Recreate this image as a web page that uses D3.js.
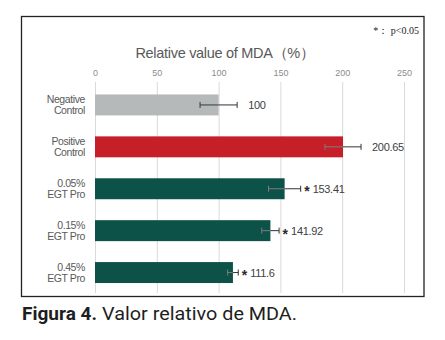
<!DOCTYPE html>
<html>
<head>
<meta charset="utf-8">
<script src="https://cdn.jsdelivr.net/npm/d3@7"></script>
<style>
  html, body { margin: 0; padding: 0; background: #fff; }
  svg { display: block; }
</style>
</head>
<body>
<div id="chart"></div>
<script>
// MDA relative values per treatment group
const groups = [["Negative", "Control"], ["Positive", "Control"], ["0.05%", "EGT Pro"], ["0.15%", "EGT Pro"], ["0.45%", "EGT Pro"]];
const values = [100, 200.65, 153.41, 141.92, 111.6];
const errors = [15, 14.6, 13, 7, 4.3];
const significant = [false, false, true, true, true];
const barColors = ["#b6b9b9", "#c61f2a", "#0c5248", "#0c5248", "#0c5248"];
const ticks = [0, 50, 100, 150, 200, 250];

const W = 445, H = 340;
const svg = d3.select("#chart").append("svg")
    .attr("width", W)
    .attr("height", H);

// chart frame
svg.append("rect")
    .attr("x", 21.5).attr("y", 16.5)
    .attr("width", 402.5).attr("height", 280)
    .attr("fill", "none")
    .attr("stroke", "#222")
    .attr("stroke-width", 1.3);

svg.append("text")
    .attr("x", 419).attr("y", 34)
    .attr("text-anchor", "end")
    .attr("font-family", "'Liberation Serif', serif")
    .attr("font-size", 10)
    .attr("fill", "#222")
    .text("*： p<0.05");

svg.append("text")
    .attr("x", 225).attr("y", 58)
    .attr("text-anchor", "middle")
    .attr("font-family", "'Liberation Sans', Arial, sans-serif")
    .attr("font-size", 14.5)
    .attr("letter-spacing", -0.3)
    .attr("fill", "#595959")
    .text("Relative value of MDA（%）");

const x = d3.scaleLinear().domain([0, 250]).range([95, 404]);
const y = d3.scaleBand()
    .domain(d3.range(values.length))
    .range([84, 293.5])
    .paddingInner(0.5)
    .paddingOuter(0.25);

// top axis with vertical gridlines
const axis = svg.append("g")
    .attr("transform", "translate(0,82)")
    .call(d3.axisTop(x).tickValues(ticks).tickSize(0).tickPadding(6));
axis.select(".domain").remove();
axis.selectAll("text")
    .attr("font-family", "'Liberation Sans', Arial, sans-serif")
    .attr("font-size", 9)
    .attr("fill", "#8c8c8c");

svg.append("g").selectAll("line")
    .data(ticks)
    .join("line")
    .attr("x1", d => x(d) + 0.5).attr("x2", d => x(d) + 0.5)
    .attr("y1", 82).attr("y2", 293)
    .attr("stroke", "#d9d9d9")
    .attr("stroke-width", 1);

// bars
svg.append("g").selectAll("rect")
    .data(values)
    .join("rect")
    .attr("x", x(0))
    .attr("y", (d, i) => y(i))
    .attr("width", d => x(d) - x(0))
    .attr("height", y.bandwidth())
    .attr("fill", (d, i) => barColors[i]);

// error bars: the half inside the bar is drawn lighter
const eb = svg.append("g").attr("stroke-width", 1);
values.forEach((v, i) => {
    const cy = y(i) + y.bandwidth() / 2;
    const lo = x(v - errors[i]), mid = x(v), hi = x(v + errors[i]);
    const inner = i === 0 ? "#3a3a3a" : "#7d7d7d";
    eb.append("line").attr("stroke", inner)
        .attr("x1", lo).attr("x2", mid).attr("y1", cy).attr("y2", cy);
    eb.append("line").attr("stroke", inner)
        .attr("x1", lo).attr("x2", lo).attr("y1", cy - 3).attr("y2", cy + 3);
    eb.append("line").attr("stroke", "#333")
        .attr("x1", mid).attr("x2", hi).attr("y1", cy).attr("y2", cy);
    eb.append("line").attr("stroke", "#333")
        .attr("x1", hi).attr("x2", hi).attr("y1", cy - 3).attr("y2", cy + 3);
});

// value labels, with a star for significant groups
const labels = svg.append("g")
    .attr("font-family", "'Liberation Sans', Arial, sans-serif")
    .attr("font-size", 11)
    .attr("letter-spacing", -0.3)
    .attr("fill", "#404040");
values.forEach((v, i) => {
    const cy = y(i) + y.bandwidth() / 2;
    const end = x(v + errors[i]);
    if (significant[i]) {
        labels.append("text")
            .attr("x", end + 3.5).attr("y", cy + (i === 3 ? 8.5 : 7.5))
            .attr("font-size", 14)
            .attr("font-weight", "bold")
            .attr("fill", "#2a2a2a")
            .text("*");
        labels.append("text")
            .attr("x", end + 12).attr("y", cy + 4)
            .text(v);
    } else {
        labels.append("text")
            .attr("x", end + 11).attr("y", cy + 4)
            .text(v);
    }
});

// category labels
const cats = svg.append("g")
    .attr("font-family", "'Liberation Sans', Arial, sans-serif")
    .attr("font-size", 10.5)
    .attr("letter-spacing", -0.4)
    .attr("fill", "#595959")
    .attr("text-anchor", "end");
groups.forEach((g, i) => {
    const cy = y(i) + y.bandwidth() / 2;
    const t = cats.append("text").attr("x", 85).attr("y", cy - 2);
    t.append("tspan").attr("x", 85).attr("dy", 0).text(g[0]);
    t.append("tspan").attr("x", 85).attr("dy", 11).text(g[1]);
});

// caption
const cap = svg.append("g")
    .attr("font-family", "Roboto, 'Noto Sans', sans-serif")
    .attr("font-size", 19)
    .attr("fill", "#1e1e1e");
cap.append("text")
    .attr("x", 22).attr("y", 320)
    .attr("font-weight", "bold")
    .attr("textLength", 75)
    .attr("lengthAdjust", "spacingAndGlyphs")
    .text("Figura 4.");
cap.append("text")
    .attr("x", 102).attr("y", 320)
    .attr("textLength", 195)
    .attr("lengthAdjust", "spacingAndGlyphs")
    .text("Valor relativo de MDA.");
</script>
</body>
</html>
